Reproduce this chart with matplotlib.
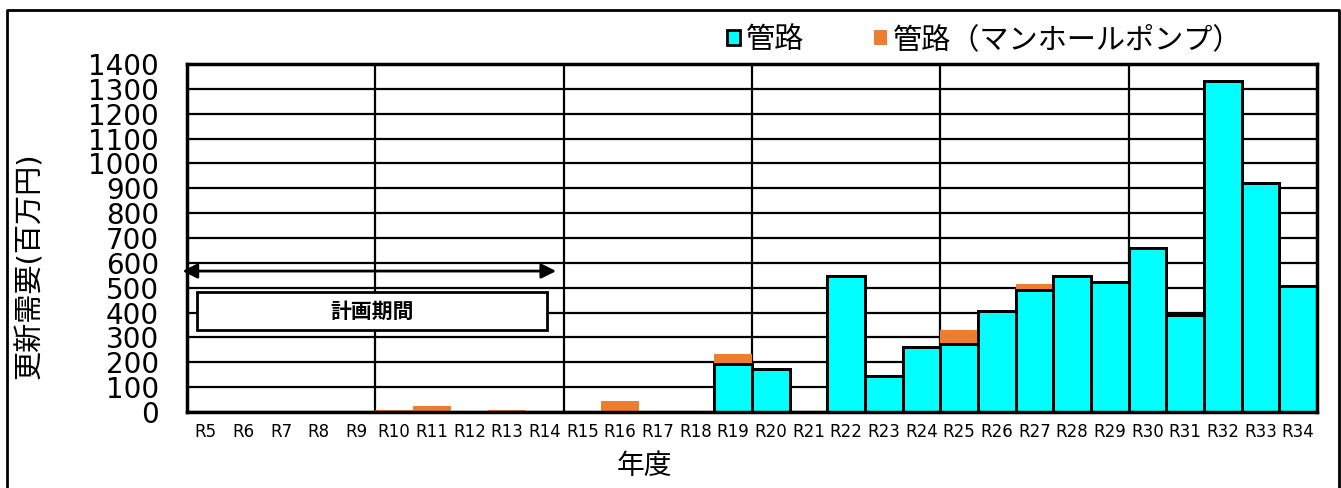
import matplotlib.pyplot as plt
from matplotlib.lines import Line2D
from matplotlib.patches import Rectangle

plt.rcParams['font.family'] = ['DejaVu Sans', 'Noto Sans CJK JP']

# data
years = ['R5', 'R6', 'R7', 'R8', 'R9', 'R10', 'R11', 'R12', 'R13', 'R14',
         'R15', 'R16', 'R17', 'R18', 'R19', 'R20', 'R21', 'R22', 'R23', 'R24',
         'R25', 'R26', 'R27', 'R28', 'R29', 'R30', 'R31', 'R32', 'R33', 'R34']
pipe = [0, 0, 0, 0, 0, 0, 0, 0, 0, 0,
        0, 0, 0, 0, 195, 172, 0, 547, 144, 260,
        272, 405, 492, 548, 522, 658, 391, 1331, 921, 508]
pump = [0, 0, 0, 0, 0, 10, 25, 0, 10, 0,
        0, 45, 0, 0, 38, 0, 0, 0, 0, 0,
        58, 0, 22, 0, 0, 0, 0, 0, 0, 0]
yticks = list(range(0, 1500, 100))

fig = plt.figure(figsize=(13.41, 4.88), dpi=100)
ax = fig.add_axes([187/1341, 1-412/488, 1130/1341, 348/488])

x = list(range(len(years)))
ax.set_axisbelow(True)
b1 = ax.bar(x, pipe, width=1, color='#00FFFF', edgecolor='black', linewidth=2,
            label='管路')
b2 = ax.bar(x, pump, width=1, bottom=pipe, color='#ED7D31', edgecolor='none',
            label='管路（マンホールポンプ）')
# redraw outline of cyan bars on top
for rect in b1:
    if rect.get_height() > 0:
        ax.add_patch(Rectangle(rect.get_xy(), rect.get_width(), rect.get_height(),
                               fill=False, edgecolor='black', linewidth=2, zorder=3))

ax.set_xlim(-0.5, len(years) - 0.5)
ax.set_ylim(0, 1400)
ax.set_yticks(yticks)
ax.set_xticks(x)
ax.set_xticklabels(years, fontsize=12)
ax.tick_params(axis='y', length=0, pad=20, labelsize=20)
ax.tick_params(axis='x', length=0, pad=8)
ax.yaxis.grid(True, color='black', linewidth=1.6)
for v in range(5, len(years), 5):
    ax.axvline(v - 0.5, color='black', linewidth=1.6, zorder=0.5)
for s in ax.spines.values():
    s.set_linewidth(2.5)

ax.set_ylabel('更新需要(百万円)', fontsize=21)
ax.set_xlabel('年度', fontsize=20)
ax.yaxis.set_label_coords(-143/1130, 0.42)
ax.xaxis.set_label_coords(0.405, -40/348)

# plan period annotation
ax.annotate('', xy=(-0.62, 567), xytext=(9.3, 567),
            arrowprops=dict(arrowstyle='<|-|>', color='black', lw=2,
                            mutation_scale=22, shrinkA=0, shrinkB=0),
            annotation_clip=False)
ax.add_patch(Rectangle((-0.23, 330), 9.29, 153, facecolor='white',
                       edgecolor='black', linewidth=2, zorder=4))
ax.text(4.41, 406, '計画期間', ha='center', va='center', fontsize=15,
        fontweight='bold', zorder=5, family=['Noto Sans CJK JP'])

fig.legend(handles=[b1, b2], loc='center left', bbox_to_anchor=(712/1341, 1-40/488),
           ncol=2, frameon=False, handlelength=0.45, handleheight=0.45,
           handletextpad=0.2, columnspacing=2.4, borderpad=0,
           prop={'family': ['Noto Sans CJK JP'], 'size': 21})

# outer border
fig.add_artist(Line2D([7/1341, 7/1341, 1339/1341, 1339/1341],
                      [-0.1, 1-10/488, 1-10/488, -0.1],
                      transform=fig.transFigure, color='black', linewidth=2))

fig.savefig('out.png', dpi=100)
